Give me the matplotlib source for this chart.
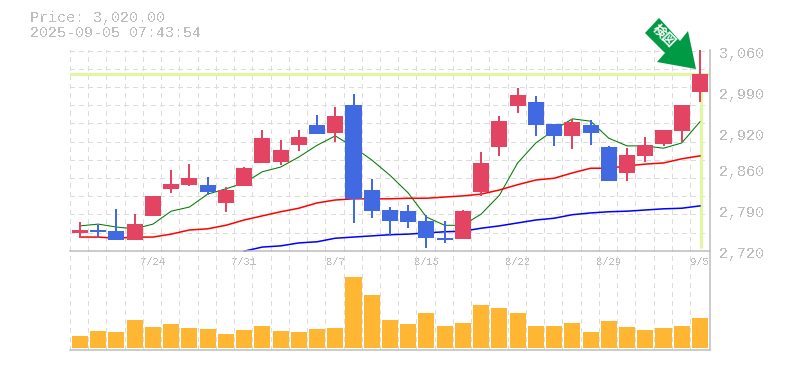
import matplotlib
matplotlib.use("Agg")
import matplotlib.pyplot as plt
from matplotlib.patches import Polygon, Rectangle

plt.rcParams['text.antialiased'] = False

title_price = "Price: 3,020.00"
title_time = "2025-09-05 07:43:54"
arrow_text = "検図"
current_price = 3020
y_ticks = [3060, 2990, 2920, 2860, 2790, 2720]
y_tick_labels = ["3,060", "2,990", "2,920", "2,860", "2,790", "2,720"]
date_idx = [4, 9, 14, 19, 24, 29, 34]
date_labels = ["7/24", "7/31", "8/7", "8/15", "8/22", "8/29", "9/5"]

W, H = 785, 370
def p(y):  # pixel row -> price, used only for the decorative grid
    return 3060 - 1.7 * (y - 50)

up = [1,0,0,1,1,1,1,0,1,1,1,1,1,0,1,0,0,0,0,0,0,1,1,1,1,0,0,1,0,0,1,1,1,1,1]
body_top = [2754,2754,2752,2764,2812,2832,2842,2831,2822,2859,2910,2890,2912,2933,2948,2967,2822,2788,2786,2769,2740,2786,2868,2939,2984,2972,2934,2938,2933,2895,2881,2898,2924,2967,3020]
body_bot = [2749,2751,2737,2737,2778,2824,2831,2819,2800,2829,2868,2870,2899,2917,2919,2807,2786,2769,2768,2740,2737,2739,2819,2895,2965,2933,2914,2914,2919,2837,2851,2880,2900,2922,2989]
wick_top = [2768,2762,2790,2781,2812,2856,2866,2844,2827,2861,2924,2907,2924,2950,2963,2985,2841,2793,2797,2779,2769,2788,2887,2948,2995,2982,2934,2943,2941,2897,2893,2912,2924,2967,3060]
wick_bot = [2740,2742,2737,2737,2778,2817,2829,2814,2785,2829,2868,2865,2888,2917,2904,2766,2774,2744,2757,2723,2732,2739,2812,2880,2953,2914,2897,2892,2899,2837,2837,2870,2897,2904,2972]

ma_fast = [2761,2764,2759,2756,2764,2786,2793,2815,2824,2834,2853,2861,2878,2898,2914,2895,2873,2847,2817,2776,2762,2762,2781,2813,2868,2902,2924,2943,2939,2910,2897,2897,2893,2902,2938]
ma_mid = [2742,2742,2740,2742,2742,2747,2754,2756,2762,2771,2778,2785,2791,2800,2805,2807,2807,2807,2808,2808,2810,2812,2815,2822,2831,2839,2842,2851,2859,2859,2863,2866,2868,2875,2880]
ma_slow = [None]*9 + [2718,2725,2727,2732,2734,2740,2742,2744,2746,2747,2749,2751,2752,2757,2761,2766,2771,2774,2780,2783,2785,2786,2788,2790,2791,2795]
volume = [12,17,16,28,21,24,20,19,14,18,22,17,16,19,20,71,53,28,24,35,22,25,43,40,35,22,22,25,16,27,21,18,20,22,30]

RED = '#e34462'
BLUE = '#4169e1'
ORANGE = '#ffb733'
GRID = '#dcdcdc'
AXIS = '#bdbdbd'
TEXT = '#bdbdbd'
LIME = '#e3f5a6'
GREEN = '#009a44'
N = len(up)

fig = plt.figure(figsize=(W/100, H/100), dpi=100, facecolor='white')
def axes_px(x0, y0, x1, y1):
    return fig.add_axes([x0/W, 1-y1/H, (x1-x0)/W, (y1-y0)/H])

ax = axes_px(70, 50, 710, 250)
vx = axes_px(70, 250, 710, 350)
xlim = (-0.548, 34.55)
for a in (ax, vx):
    a.set_xlim(*xlim)
    a.set_facecolor('none')
    for s in a.spines.values():
        s.set_visible(False)
    a.set_yticks([])
    a.set_xticks([])
    a.tick_params(length=0)
ax.set_ylim(2720, 3060)
vx.set_ylim(-2, 98)

gl = dict(color=GRID, lw=1, dashes=(3, 3), zorder=1, antialiased=False)
for i in range(N):
    xg = i - 0.548
    ax.axvline(xg, **gl)
    vx.axvline(xg, **gl)
for r in range(11):
    ax.axhline(p(50.7 + 18.18*r), **gl)

# current price marker
ax.axhline(current_price, color=LIME, lw=2.4, zorder=2)
ax.plot([34.03, 34.03], [p(248), current_price], color=LIME, lw=2.4, zorder=2,
        solid_capstyle='butt')

# moving averages
xs = list(range(N))
ax.plot(xs, ma_fast, color='#007a00', lw=0.75, zorder=3, clip_on=False)
ax.plot(xs, ma_mid, color='#ff0000', lw=1.1, zorder=3, clip_on=False)
sx = [i for i, v in enumerate(ma_slow) if v is not None]
ax.plot(sx, [ma_slow[i] for i in sx], color='#0000ff', lw=1.1, zorder=3, clip_on=False)

# candles
for i in range(N):
    c = RED if up[i] else BLUE
    ax.plot([i, i], [wick_bot[i], wick_top[i]], color=c, lw=1.1, zorder=4,
            solid_capstyle='butt', antialiased=False, clip_on=False)
    ax.add_patch(Rectangle((i-0.44, body_bot[i]), 0.88, body_top[i]-body_bot[i],
                           facecolor=c, edgecolor='none', zorder=5, antialiased=False))

# volume
vx.bar(xs, volume, width=0.88, color=ORANGE, zorder=3, antialiased=False)

# frame lines
def line(x0, y0, x1, y1):
    fig.add_artist(plt.Line2D([x0/W, x1/W], [1-y0/H, 1-y1/H], color=AXIS, lw=1.1, zorder=6))
line(70, 250.5, 710, 250.5)
line(70, 350, 710, 350)
line(710, 50, 710, 350)

mono = 'Liberation Mono'
fig.text(30/W, 1-18/H, title_price, family=mono, fontsize=10.8, color=TEXT, va='center')
fig.text(30/W, 1-33/H, title_time, family=mono, fontsize=10.8, color=TEXT, va='center')
for v, s in zip(y_ticks, y_tick_labels):
    ax.annotate(s, (1, v), xycoords=('axes fraction', 'data'), xytext=(9, -4), textcoords='offset pixels',
                family=mono, fontsize=10.8, color=TEXT, va='center', ha='left', annotation_clip=False, zorder=7)
for i, s in zip(date_idx, date_labels):
    ax.annotate(s, (i, 0), xycoords=('data', 'axes fraction'), xytext=(0, -12), textcoords='offset pixels',
                family=mono, fontsize=7.6, color=TEXT, va='center', ha='center', annotation_clip=False, zorder=7)

# green badge arrow
pts = [(659, 18), (645, 33), (665, 53), (657, 62), (696, 69), (688, 31), (680, 41)]
fig.add_artist(Polygon([(x/W, 1-y/H) for x, y in pts], closed=True, transform=fig.transFigure,
                       facecolor=GREEN, edgecolor='none', zorder=8))
plt.rcParams['text.antialiased'] = True
fig.text(664/W, 1-36/H, arrow_text, family='Noto Sans CJK JP', fontsize=9.5, fontweight='bold',
         color='white', rotation=-45, rotation_mode='anchor', ha='center', va='center', zorder=9)

fig.savefig('out.png', dpi=100)
